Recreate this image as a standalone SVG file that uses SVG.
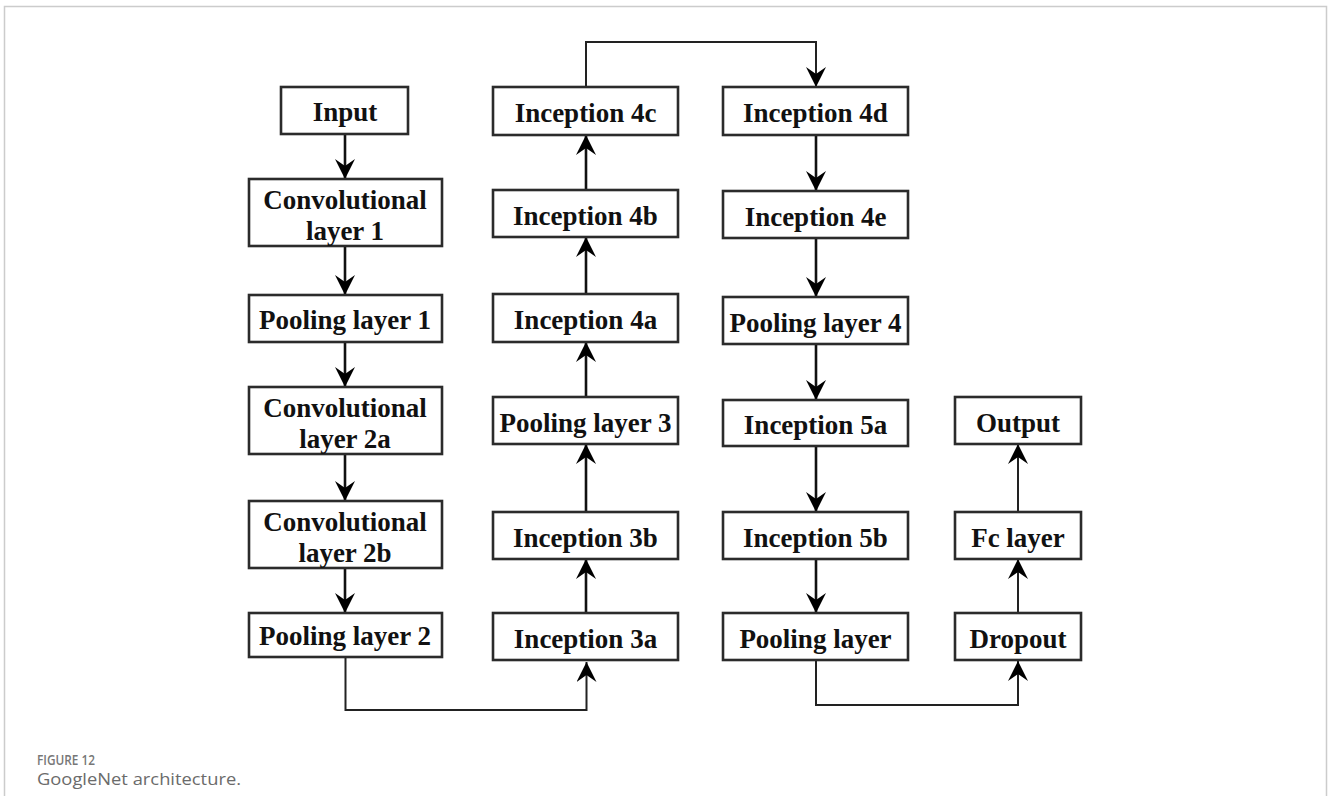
<svg xmlns="http://www.w3.org/2000/svg" width="1328" height="796" viewBox="0 0 1328 796">
  <style>
    .box { fill: #ffffff; stroke: #2b2b2b; stroke-width: 2.6; }
    .lbl { font-family: "Liberation Serif", "Times New Roman", serif; font-weight: bold; font-size: 27px; fill: #111111; text-anchor: middle; }
    .flow { fill: none; stroke: #111111; stroke-width: 2.6; marker-end: url(#head); }
    .thin { fill: none; stroke: #222222; stroke-width: 2; }
    .cap1 { font-family: "Open Sans", "Liberation Sans", sans-serif; font-weight: 600; font-size: 14px; fill: #777777; }
    .cap2 { font-family: "Open Sans", "Liberation Sans", sans-serif; font-size: 17px; fill: #6b6b6b; }
  </style>
  <defs>
    <marker id="head" markerUnits="userSpaceOnUse" markerWidth="22" markerHeight="20" refX="20" refY="10" orient="auto">
      <path d="M0,0 L20,10 L0,20 L7,10 Z" fill="#000000"/>
    </marker>
  </defs>

  <rect width="1328" height="796" fill="#ffffff"/>
  <!-- page frame -->
  <path d="M4.5,796 V6.5 H1326.5 V796" fill="none" stroke="#cccccc" stroke-width="1.5"/>

  <!-- connectors -->
  <g id="connectors">
    <!-- column 1 (down) -->
    <line class="flow" x1="345" y1="134" x2="345" y2="179"/>
    <line class="flow" x1="345" y1="246" x2="345" y2="295"/>
    <line class="flow" x1="345" y1="342" x2="345" y2="387"/>
    <line class="flow" x1="345" y1="454" x2="345" y2="501"/>
    <line class="flow" x1="345" y1="568" x2="345" y2="613"/>
    <!-- pooling layer 2 to inception 3a -->
    <path class="thin" d="M345.5,657 V710 H586.5 V662" marker-end="url(#head)"/>
    <!-- column 2 (up) -->
    <line class="flow" x1="586" y1="613" x2="586" y2="559"/>
    <line class="flow" x1="586" y1="512" x2="586" y2="444"/>
    <line class="flow" x1="586" y1="397" x2="586" y2="342"/>
    <line class="flow" x1="586" y1="294" x2="586" y2="237"/>
    <line class="flow" x1="586" y1="190" x2="586" y2="135"/>
    <!-- inception 4c to inception 4d -->
    <path class="thin" d="M586,87 V42 H816 V87" marker-end="url(#head)"/>
    <!-- column 3 (down) -->
    <line class="flow" x1="816" y1="135" x2="816" y2="191"/>
    <line class="flow" x1="816" y1="238" x2="816" y2="297"/>
    <line class="flow" x1="816" y1="344" x2="816" y2="400"/>
    <line class="flow" x1="816" y1="446" x2="816" y2="512"/>
    <line class="flow" x1="816" y1="559" x2="816" y2="613"/>
    <!-- pooling layer to dropout -->
    <path class="thin" d="M816,660 V705 H1018 V661" marker-end="url(#head)"/>
    <!-- column 4 (up) -->
    <line class="thin" x1="1018" y1="613" x2="1018" y2="559" marker-end="url(#head)"/>
    <line class="thin" x1="1018" y1="512" x2="1018" y2="444" marker-end="url(#head)"/>
  </g>

  <!-- column 1 -->
  <g id="input"><rect class="box" x="281" y="87" width="127" height="47"/><text class="lbl" x="345" y="121">Input</text></g>
  <g id="conv1"><rect class="box" x="249" y="179" width="193" height="67"/><text class="lbl" x="345" y="209">Convolutional</text><text class="lbl" x="345" y="240">layer 1</text></g>
  <g id="pool1"><rect class="box" x="249" y="295" width="193" height="47"/><text class="lbl" x="345" y="329">Pooling layer 1</text></g>
  <g id="conv2a"><rect class="box" x="249" y="387" width="193" height="67"/><text class="lbl" x="345" y="417">Convolutional</text><text class="lbl" x="345" y="448">layer 2a</text></g>
  <g id="conv2b"><rect class="box" x="249" y="501" width="193" height="67"/><text class="lbl" x="345" y="531">Convolutional</text><text class="lbl" x="345" y="562">layer 2b</text></g>
  <g id="pool2"><rect class="box" x="249" y="613" width="193" height="44"/><text class="lbl" x="345" y="645">Pooling layer 2</text></g>

  <!-- column 2 -->
  <g id="inc4c"><rect class="box" x="493" y="87" width="185" height="48"/><text class="lbl" x="585.5" y="122">Inception 4c</text></g>
  <g id="inc4b"><rect class="box" x="493" y="190" width="185" height="47"/><text class="lbl" x="585.5" y="225">Inception 4b</text></g>
  <g id="inc4a"><rect class="box" x="493" y="294" width="185" height="48"/><text class="lbl" x="585.5" y="329">Inception 4a</text></g>
  <g id="pool3"><rect class="box" x="493" y="397" width="185" height="47"/><text class="lbl" x="585.5" y="432">Pooling layer 3</text></g>
  <g id="inc3b"><rect class="box" x="493" y="512" width="185" height="47"/><text class="lbl" x="585.5" y="547">Inception 3b</text></g>
  <g id="inc3a"><rect class="box" x="493" y="613" width="185" height="47"/><text class="lbl" x="585.5" y="648">Inception 3a</text></g>

  <!-- column 3 -->
  <g id="inc4d"><rect class="box" x="723" y="87" width="185" height="48"/><text class="lbl" x="815.5" y="122">Inception 4d</text></g>
  <g id="inc4e"><rect class="box" x="723" y="191" width="185" height="47"/><text class="lbl" x="815.5" y="226">Inception 4e</text></g>
  <g id="pool4"><rect class="box" x="723" y="297" width="185" height="47"/><text class="lbl" x="815.5" y="332">Pooling layer 4</text></g>
  <g id="inc5a"><rect class="box" x="723" y="400" width="185" height="46"/><text class="lbl" x="815.5" y="434">Inception 5a</text></g>
  <g id="inc5b"><rect class="box" x="723" y="512" width="185" height="47"/><text class="lbl" x="815.5" y="547">Inception 5b</text></g>
  <g id="pool5"><rect class="box" x="723" y="613" width="185" height="47"/><text class="lbl" x="815.5" y="648">Pooling layer</text></g>

  <!-- column 4 -->
  <g id="output"><rect class="box" x="955" y="397" width="126" height="47"/><text class="lbl" x="1018" y="432">Output</text></g>
  <g id="fc"><rect class="box" x="955" y="512" width="126" height="47"/><text class="lbl" x="1018" y="547">Fc layer</text></g>
  <g id="dropout"><rect class="box" x="955" y="613" width="126" height="47"/><text class="lbl" x="1018" y="648">Dropout</text></g>

  <!-- caption -->
  <text class="cap1" x="37" y="765" textLength="58" lengthAdjust="spacingAndGlyphs">FIGURE 12</text>
  <text class="cap2" x="37" y="785" textLength="204" lengthAdjust="spacingAndGlyphs">GoogleNet architecture.</text>
</svg>
